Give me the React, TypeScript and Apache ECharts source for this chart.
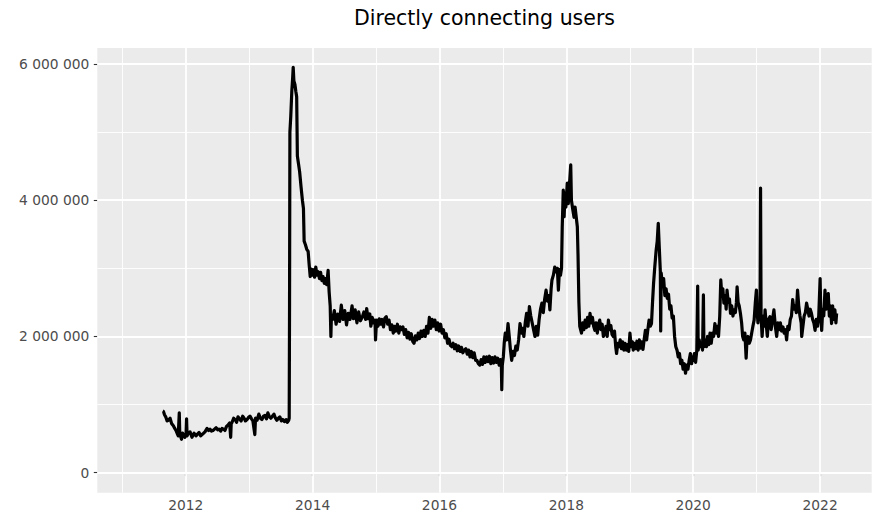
import React, { useEffect, useRef } from "react";
import * as echarts from "echarts";

// Directly connecting users (values in thousands)
const users2011: [string, number][] = [
  ["2011-08-22", 905], ["2011-08-26", 900], ["2011-09-01", 850], ["2011-09-08", 820], ["2011-09-16", 760],
  ["2011-09-23", 770], ["2011-10-03", 800], ["2011-10-12", 720], ["2011-10-22", 690], ["2011-10-30", 650],
  ["2011-11-06", 620], ["2011-11-14", 570], ["2011-11-19", 540], ["2011-11-25", 880], ["2011-11-28", 560],
  ["2011-12-03", 530], ["2011-12-08", 490], ["2011-12-14", 580], ["2011-12-19", 560], ["2011-12-27", 520],
];
const users2012: [string, number][] = [
  ["2012-01-03", 560], ["2012-01-06", 790], ["2012-01-09", 540], ["2012-01-16", 580], ["2012-01-26", 600],
  ["2012-02-06", 520], ["2012-02-18", 580], ["2012-02-29", 540], ["2012-03-10", 570], ["2012-03-18", 590],
  ["2012-03-27", 540], ["2012-04-04", 560], ["2012-04-13", 580], ["2012-04-21", 600], ["2012-05-03", 650],
  ["2012-05-12", 620], ["2012-05-20", 640], ["2012-05-28", 610], ["2012-06-06", 620], ["2012-06-15", 640],
  ["2012-06-24", 660], ["2012-07-03", 630], ["2012-07-11", 640], ["2012-07-20", 610], ["2012-07-28", 650],
  ["2012-08-06", 640], ["2012-08-14", 620], ["2012-08-23", 680], ["2012-09-01", 700], ["2012-09-10", 730],
  ["2012-09-16", 520], ["2012-09-19", 720], ["2012-09-24", 740], ["2012-10-03", 800], ["2012-10-11", 780],
  ["2012-10-20", 740], ["2012-10-28", 820], ["2012-11-06", 790], ["2012-11-15", 760], ["2012-11-24", 830],
  ["2012-12-02", 800], ["2012-12-10", 760], ["2012-12-19", 780], ["2012-12-27", 810],
];
const users2013: [string, number][] = [
  ["2013-01-05", 830], ["2013-01-14", 790], ["2013-01-22", 760], ["2013-02-02", 560], ["2013-02-06", 800],
  ["2013-02-15", 770], ["2013-02-25", 860], ["2013-03-06", 800], ["2013-03-15", 780], ["2013-03-24", 830],
  ["2013-04-01", 840], ["2013-04-10", 790], ["2013-04-18", 880], ["2013-04-27", 820], ["2013-05-05", 800],
  ["2013-05-14", 830], ["2013-05-23", 860], ["2013-06-01", 800], ["2013-06-09", 770], ["2013-06-18", 800],
  ["2013-06-26", 820], ["2013-07-05", 760], ["2013-07-13", 780], ["2013-07-22", 750], ["2013-08-01", 780],
  ["2013-08-08", 740], ["2013-08-16", 770], ["2013-08-19", 800], ["2013-08-21", 2500], ["2013-08-23", 5000],
  ["2013-08-28", 5230], ["2013-09-03", 5600], ["2013-09-08", 5800], ["2013-09-11", 5950], ["2013-09-15", 5750],
  ["2013-09-21", 5700], ["2013-09-26", 5600], ["2013-10-01", 5520], ["2013-10-05", 4650], ["2013-10-10", 4560],
  ["2013-10-18", 4420], ["2013-10-26", 4200], ["2013-11-03", 4000], ["2013-11-09", 3880], ["2013-11-13", 3400],
  ["2013-11-20", 3350], ["2013-11-28", 3280], ["2013-12-06", 3250], ["2013-12-12", 3050], ["2013-12-18", 2880],
  ["2013-12-24", 2990], ["2013-12-30", 2900],
];
const users2014: [string, number][] = [
  ["2014-01-05", 2980], ["2014-01-12", 2870], ["2014-01-19", 3020], ["2014-01-26", 2900], ["2014-02-02", 2950],
  ["2014-02-09", 2850], ["2014-02-16", 2940], ["2014-02-23", 2820], ["2014-03-02", 2880], ["2014-03-09", 2780],
  ["2014-03-16", 2850], ["2014-03-23", 2760], ["2014-03-31", 2970], ["2014-04-06", 2650], ["2014-04-12", 2450],
  ["2014-04-16", 2000], ["2014-04-19", 2300], ["2014-04-26", 2250], ["2014-05-06", 2380], ["2014-05-16", 2180],
  ["2014-05-26", 2330], ["2014-06-05", 2220], ["2014-06-15", 2460], ["2014-06-25", 2250], ["2014-07-05", 2380],
  ["2014-07-15", 2170], ["2014-07-25", 2340], ["2014-08-04", 2250], ["2014-08-16", 2450], ["2014-08-24", 2260],
  ["2014-09-03", 2390], ["2014-09-13", 2200], ["2014-09-23", 2360], ["2014-10-03", 2230], ["2014-10-13", 2280],
  ["2014-10-23", 2360], ["2014-11-02", 2250], ["2014-11-08", 2410], ["2014-11-16", 2260], ["2014-11-26", 2330],
  ["2014-12-02", 2150], ["2014-12-10", 2280], ["2014-12-18", 2200], ["2014-12-26", 2240], ["2014-12-29", 1950],
];
const users2015: [string, number][] = [
  ["2015-01-04", 2240], ["2015-01-12", 2150], ["2015-01-20", 2260], ["2015-01-28", 2180], ["2015-02-05", 2250],
  ["2015-02-13", 2140], ["2015-02-21", 2270], ["2015-03-01", 2290], ["2015-03-09", 2180], ["2015-03-17", 2240],
  ["2015-03-25", 2100], ["2015-04-02", 2170], ["2015-04-10", 2050], ["2015-04-18", 2150], ["2015-04-26", 2080],
  ["2015-05-04", 2180], ["2015-05-12", 2050], ["2015-05-20", 2140], ["2015-05-28", 2100], ["2015-06-05", 2140],
  ["2015-06-13", 2030], ["2015-06-21", 2100], ["2015-06-29", 1980], ["2015-07-07", 2060], ["2015-07-15", 1960],
  ["2015-07-23", 2040], ["2015-07-31", 1930], ["2015-08-08", 1900], ["2015-08-16", 2010], ["2015-08-24", 1950],
  ["2015-09-01", 2050], ["2015-09-09", 1970], ["2015-09-17", 2080], ["2015-09-25", 2000], ["2015-10-03", 2090],
  ["2015-10-11", 2000], ["2015-10-19", 2150], ["2015-10-27", 2050], ["2015-11-04", 2280], ["2015-11-12", 2120],
  ["2015-11-20", 2250], ["2015-11-28", 2150], ["2015-12-06", 2240], ["2015-12-14", 2100], ["2015-12-22", 2200],
  ["2015-12-30", 2080],
];
const users2016: [string, number][] = [
  ["2016-01-08", 2180], ["2016-01-16", 2050], ["2016-01-24", 2100], ["2016-02-01", 1980], ["2016-02-09", 2040],
  ["2016-02-17", 1900], ["2016-02-25", 1960], ["2016-03-04", 1870], ["2016-03-12", 1850], ["2016-03-20", 1900],
  ["2016-03-28", 1820], ["2016-04-05", 1880], ["2016-04-13", 1790], ["2016-04-21", 1860], ["2016-04-29", 1780],
  ["2016-05-07", 1840], ["2016-05-15", 1760], ["2016-05-23", 1800], ["2016-06-01", 1820], ["2016-06-09", 1740],
  ["2016-06-17", 1800], ["2016-06-25", 1700], ["2016-07-03", 1780], ["2016-07-11", 1690], ["2016-07-19", 1760],
  ["2016-07-27", 1650], ["2016-08-04", 1650], ["2016-08-12", 1600], ["2016-08-20", 1580], ["2016-08-28", 1660],
  ["2016-09-05", 1590], ["2016-09-13", 1700], ["2016-09-21", 1620], ["2016-09-29", 1700], ["2016-10-07", 1630],
  ["2016-10-15", 1710], ["2016-10-23", 1600], ["2016-10-31", 1690], ["2016-11-08", 1610], ["2016-11-16", 1700],
  ["2016-11-24", 1620], ["2016-12-02", 1680], ["2016-12-10", 1580], ["2016-12-18", 1660], ["2016-12-22", 1650],
  ["2016-12-25", 1220], ["2016-12-28", 1580],
];
const users2017: [string, number][] = [
  ["2017-01-03", 1700], ["2017-01-08", 1900], ["2017-01-14", 2050], ["2017-01-22", 1950], ["2017-01-30", 2190],
  ["2017-02-06", 2000], ["2017-02-13", 1800], ["2017-02-20", 1650], ["2017-02-28", 1780], ["2017-03-08", 1720],
  ["2017-03-16", 1860], ["2017-03-24", 1800], ["2017-04-01", 1950], ["2017-04-09", 2190], ["2017-04-17", 2050],
  ["2017-04-25", 2120], ["2017-05-01", 2000], ["2017-05-09", 2200], ["2017-05-17", 2340], ["2017-05-25", 2150],
  ["2017-06-02", 2440], ["2017-06-10", 2300], ["2017-06-18", 2200], ["2017-06-26", 2100], ["2017-07-04", 2000],
  ["2017-07-12", 2150], ["2017-07-20", 2020], ["2017-07-28", 2250], ["2017-08-05", 2400], ["2017-08-13", 2490],
  ["2017-08-21", 2350], ["2017-08-29", 2550], ["2017-09-06", 2680], ["2017-09-14", 2520], ["2017-09-22", 2600],
  ["2017-09-28", 2390], ["2017-10-05", 2700], ["2017-10-10", 2830], ["2017-10-18", 2900], ["2017-10-26", 3020],
  ["2017-11-03", 2950], ["2017-11-10", 3000], ["2017-11-16", 2680], ["2017-11-22", 2980], ["2017-11-28", 2900],
  ["2017-12-04", 3000], ["2017-12-08", 3600], ["2017-12-14", 4150], ["2017-12-19", 3760], ["2017-12-24", 4100],
  ["2017-12-29", 3900],
];
const users2018: [string, number][] = [
  ["2018-01-06", 4250], ["2018-01-12", 3950], ["2018-01-18", 4200], ["2018-01-26", 4520], ["2018-01-30", 4000],
  ["2018-02-07", 3860], ["2018-02-14", 3750], ["2018-02-20", 3900], ["2018-03-05", 3610], ["2018-03-09", 3200],
  ["2018-03-14", 2500], ["2018-03-19", 2150], ["2018-03-29", 2050], ["2018-04-05", 2200], ["2018-04-12", 2100],
  ["2018-04-19", 2240], ["2018-04-26", 2130], ["2018-05-03", 2280], ["2018-05-10", 2150], ["2018-05-17", 2340],
  ["2018-05-24", 2200], ["2018-05-31", 2280], ["2018-06-07", 2150], ["2018-06-14", 2090], ["2018-06-21", 2200],
  ["2018-06-28", 2050], ["2018-07-05", 2180], ["2018-07-12", 2240], ["2018-07-19", 2100], ["2018-07-26", 2180],
  ["2018-08-02", 2000], ["2018-08-10", 2050], ["2018-08-17", 2150], ["2018-08-24", 2000], ["2018-08-31", 2240],
  ["2018-09-07", 2100], ["2018-09-14", 2160], ["2018-09-21", 2030], ["2018-09-28", 2000], ["2018-10-05", 2080],
  ["2018-10-12", 1850], ["2018-10-17", 1750], ["2018-10-24", 1900], ["2018-10-31", 1850], ["2018-11-07", 1950],
  ["2018-11-14", 1820], ["2018-11-21", 1920], ["2018-11-28", 1800], ["2018-12-05", 1900], ["2018-12-12", 1800],
  ["2018-12-19", 1880], ["2018-12-26", 1780],
];
const users2019: [string, number][] = [
  ["2019-01-02", 2050], ["2019-01-09", 1850], ["2019-01-16", 1920], ["2019-01-21", 1800], ["2019-01-28", 1900],
  ["2019-02-04", 1820], ["2019-02-11", 1930], ["2019-02-18", 1800], ["2019-02-25", 1950], ["2019-03-04", 1830],
  ["2019-03-11", 1920], ["2019-03-18", 1810], ["2019-03-25", 1960], ["2019-04-01", 2090], ["2019-04-08", 1950],
  ["2019-04-15", 2100], ["2019-04-22", 2240], ["2019-04-29", 2150], ["2019-05-06", 2190], ["2019-05-12", 2500],
  ["2019-05-18", 2780], ["2019-05-25", 3020], ["2019-06-02", 3270], ["2019-06-08", 3400], ["2019-06-14", 3660],
  ["2019-06-20", 3300], ["2019-06-26", 2950], ["2019-06-28", 2080], ["2019-07-01", 2930], ["2019-07-08", 2750],
  ["2019-07-15", 2850], ["2019-07-22", 2600], ["2019-07-29", 2700], ["2019-08-05", 2560], ["2019-08-12", 2620],
  ["2019-08-19", 2400], ["2019-08-26", 2450], ["2019-09-02", 2270], ["2019-09-09", 2300], ["2019-09-16", 2000],
  ["2019-09-23", 1850], ["2019-09-30", 1800], ["2019-10-07", 1700], ["2019-10-14", 1750], ["2019-10-21", 1600],
  ["2019-10-28", 1650], ["2019-11-04", 1520], ["2019-11-11", 1600], ["2019-11-18", 1460], ["2019-11-25", 1580],
  ["2019-12-02", 1520], ["2019-12-09", 1650], ["2019-12-16", 1750], ["2019-12-23", 1600], ["2019-12-30", 1700],
];
const users2020: [string, number][] = [
  ["2020-01-01", 1650], ["2020-01-08", 1750], ["2020-01-15", 1620], ["2020-01-22", 1800], ["2020-01-27", 2740],
  ["2020-01-30", 1800], ["2020-02-05", 1950], ["2020-02-10", 1850], ["2020-02-17", 1900], ["2020-02-24", 1800],
  ["2020-02-29", 2610], ["2020-03-03", 1850], ["2020-03-10", 1950], ["2020-03-17", 1850], ["2020-03-24", 2000],
  ["2020-03-31", 1880], ["2020-04-07", 2050], ["2020-04-14", 1900], ["2020-04-21", 2050], ["2020-04-28", 2000],
  ["2020-05-05", 2190], ["2020-05-12", 2050], ["2020-05-19", 2150], ["2020-05-26", 2000], ["2020-06-02", 2300],
  ["2020-06-08", 2830], ["2020-06-14", 2600], ["2020-06-20", 2700], ["2020-06-26", 2490], ["2020-07-03", 2600],
  ["2020-07-09", 2400], ["2020-07-14", 2680], ["2020-07-21", 2500], ["2020-07-28", 2550], ["2020-08-03", 2340],
  ["2020-08-10", 2450], ["2020-08-17", 2300], ["2020-08-24", 2390], ["2020-08-31", 2350], ["2020-09-06", 2500],
  ["2020-09-10", 2730], ["2020-09-16", 2500], ["2020-09-22", 2450], ["2020-09-29", 2340], ["2020-10-06", 2200],
  ["2020-10-12", 2000], ["2020-10-18", 1950], ["2020-10-25", 2050], ["2020-11-01", 1680], ["2020-11-05", 1900],
  ["2020-11-12", 2000], ["2020-11-19", 1900], ["2020-11-26", 1950], ["2020-12-03", 2050], ["2020-12-10", 2150],
  ["2020-12-17", 2240], ["2020-12-24", 2500], ["2020-12-30", 2680],
];
const users2021: [string, number][] = [
  ["2021-01-04", 2350], ["2021-01-08", 2200], ["2021-01-14", 2450], ["2021-01-20", 2300], ["2021-01-23", 4180],
  ["2021-01-26", 2300], ["2021-02-01", 2000], ["2021-02-08", 2300], ["2021-02-14", 2150], ["2021-02-18", 2390],
  ["2021-02-24", 2200], ["2021-03-03", 2000], ["2021-03-10", 2250], ["2021-03-18", 2290], ["2021-03-25", 2100],
  ["2021-04-02", 2250], ["2021-04-10", 2390], ["2021-04-18", 2150], ["2021-04-26", 2000], ["2021-05-03", 2200],
  ["2021-05-10", 2100], ["2021-05-17", 2200], ["2021-05-24", 2080], ["2021-06-01", 2140], ["2021-06-08", 2050],
  ["2021-06-15", 2100], ["2021-06-22", 1950], ["2021-06-29", 2150], ["2021-07-06", 2100], ["2021-07-13", 2250],
  ["2021-07-20", 2300], ["2021-07-27", 2540], ["2021-08-03", 2400], ["2021-08-10", 2450], ["2021-08-17", 2350],
  ["2021-08-24", 2680], ["2021-08-31", 2450], ["2021-09-07", 2300], ["2021-09-14", 2200], ["2021-09-17", 2000],
  ["2021-09-24", 2150], ["2021-10-01", 2300], ["2021-10-08", 2350], ["2021-10-15", 2490], ["2021-10-22", 2400],
  ["2021-10-29", 2300], ["2021-11-05", 2400], ["2021-11-12", 2340], ["2021-11-19", 2250], ["2021-11-26", 2200],
  ["2021-12-03", 2090], ["2021-12-10", 2250], ["2021-12-17", 2150], ["2021-12-24", 2300],
];
const users2022: [string, number][] = [
  ["2022-01-01", 2850], ["2022-01-05", 2300], ["2022-01-10", 2090], ["2022-01-16", 2400], ["2022-01-22", 2300],
  ["2022-01-29", 2680], ["2022-02-04", 2400], ["2022-02-10", 2550], ["2022-02-17", 2630], ["2022-02-23", 2300],
  ["2022-03-01", 2450], ["2022-03-08", 2190], ["2022-03-14", 2450], ["2022-03-20", 2250], ["2022-03-27", 2390],
  ["2022-04-02", 2200], ["2022-04-06", 2340],
];

const yearLabels = ["2012", "2014", "2016", "2018", "2020", "2022"];
const minorYears = ["2011", "2013", "2015", "2017", "2019", "2021"];
const yTicks = [0, 2000000, 4000000, 6000000];
const yMinor = [1000000, 3000000, 5000000];

const X_MIN = Date.parse("2010-08-10");
const X_MAX = Date.parse("2022-10-25");
const Y_MIN = -293600;
const Y_MAX = 6235000;

const FONT = "DejaVu Sans";

function fmtSpace(v: number) {
  return String(Math.round(v)).replace(/\B(?=(\d{3})+(?!\d))/g, " ");
}

export default function App() {
  const ref = useRef<HTMLDivElement>(null);
  useEffect(() => {
    document.body.style.margin = "0";
    if (!ref.current) return;
    const chart = echarts.init(ref.current, undefined, { renderer: "svg" });
    const all = [
      users2011, users2012, users2013, users2014, users2015, users2016,
      users2017, users2018, users2019, users2020, users2021, users2022,
    ].flat();
    const data = all.map(([d, v]) => [Date.parse(d), v * 1000]);
    const majorX = yearLabels.map((y) => Date.parse(y + "-01-01"));
    const minorX = minorYears.map((y) => Date.parse(y + "-01-01"));
    const gridLines = [
      ...minorX.map((v) => ({ xAxis: v, lineStyle: { color: "#ffffff", width: 0.9, type: "solid" } })),
      ...yMinor.map((v) => ({ yAxis: v, lineStyle: { color: "#ffffff", width: 0.9, type: "solid" } })),
      ...majorX.map((v) => ({ xAxis: v, lineStyle: { color: "#ffffff", width: 1.8, type: "solid" } })),
      ...yTicks.map((v) => ({ yAxis: v, lineStyle: { color: "#ffffff", width: 1.8, type: "solid" } })),
    ];
    chart.setOption({
      animation: false,
      backgroundColor: "#ffffff",
      title: {
        text: "Directly connecting users",
        left: 484.5,
        top: 7,
        textAlign: "center",
        padding: 0,
        textStyle: { fontFamily: FONT, fontSize: 20.5, fontWeight: "normal", color: "#000000" },
      },
      grid: {
        left: 97.3,
        right: 23.3,
        top: 48,
        bottom: 31.3,
        show: true,
        backgroundColor: "#EBEBEB",
        borderWidth: 0,
        containLabel: false,
      },
      xAxis: {
        type: "value",
        min: X_MIN,
        max: X_MAX,
        axisLine: { show: false },
        splitLine: { show: false },
        axisTick: {
          show: true,
          customValues: majorX,
          length: 3.5,
          lineStyle: { color: "#333333", width: 1.1 },
        },
        axisLabel: {
          customValues: majorX,
          formatter: (v: number) => String(new Date(v).getUTCFullYear()),
          color: "#4D4D4D",
          fontSize: 13.8,
          fontFamily: FONT,
          margin: 5,
        },
      },
      yAxis: {
        type: "value",
        min: Y_MIN,
        max: Y_MAX,
        axisLine: { show: false },
        splitLine: { show: false },
        axisTick: {
          show: true,
          customValues: yTicks,
          length: 3.5,
          lineStyle: { color: "#333333", width: 1.1 },
        },
        axisLabel: {
          customValues: yTicks,
          formatter: (v: number) => fmtSpace(v),
          color: "#4D4D4D",
          fontSize: 13.8,
          fontFamily: FONT,
          margin: 8,
        },
      },
      series: [
        {
          type: "line",
          data: [[X_MIN, 0]],
          symbol: "none",
          silent: true,
          lineStyle: { opacity: 0 },
          z: 1,
          markLine: {
            z: 1,
            silent: true,
            symbol: ["none", "none"],
            label: { show: false },
            emphasis: { disabled: true },
            animation: false,
            data: gridLines,
          },
        },
        {
          type: "line",
          data,
          symbol: "none",
          showSymbol: false,
          clip: true,
          z: 10,
          lineStyle: { color: "#000000", width: 3.2, join: "round", cap: "butt" },
        },
      ],
    });
    return () => chart.dispose();
  }, []);
  return <div ref={ref} style={{ width: 895, height: 524 }} />;
}
